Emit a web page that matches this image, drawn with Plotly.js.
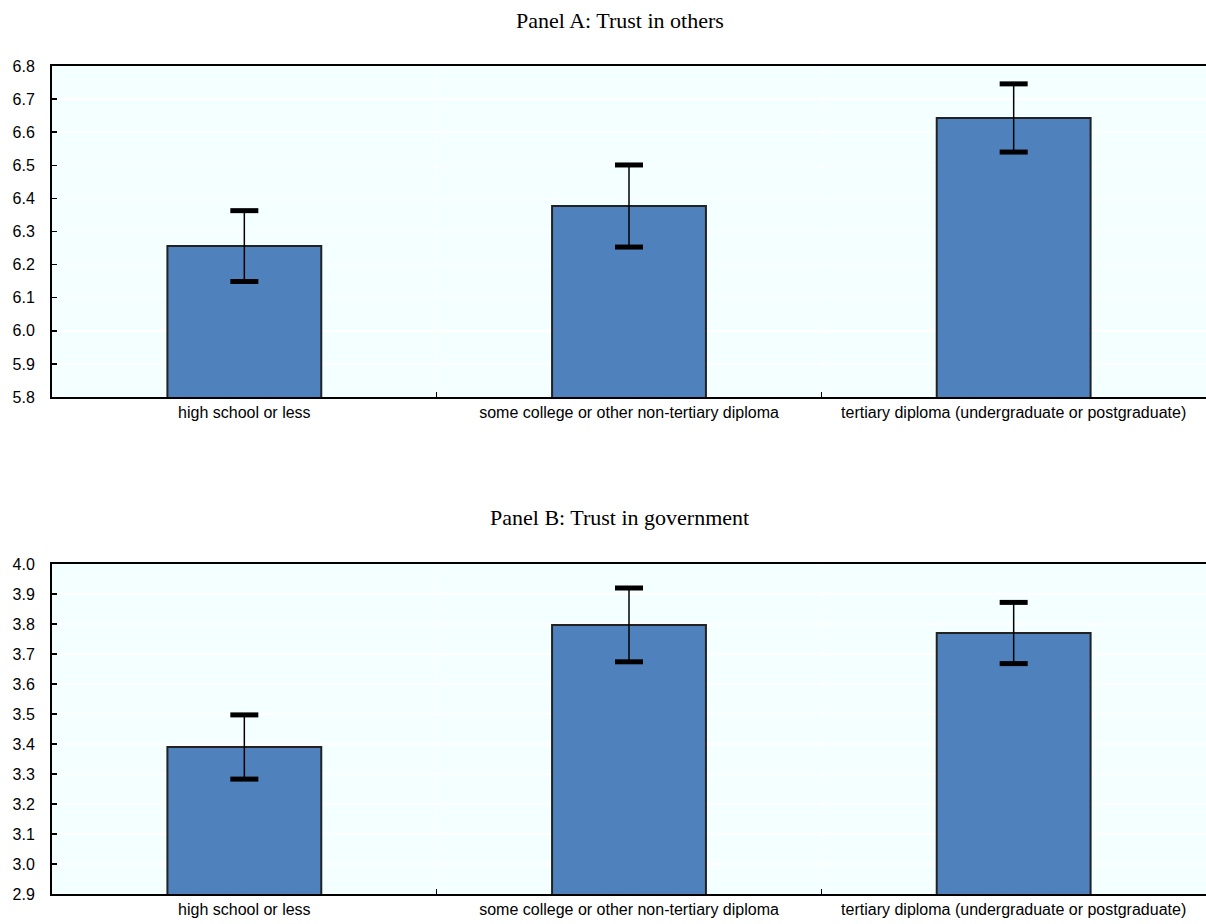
<!DOCTYPE html>
<html>
<head>
<meta charset="utf-8">
<script src="https://cdn.plot.ly/plotly-3.0.1.min.js"></script>
<style>html,body{margin:0;padding:0;background:#fff;}#chart{width:1206px;height:924px;}</style>
</head>
<body>
<div id="chart"></div>
<script>
const categories = ["high school or less", "some college or other non-tertiary diploma", "tertiary diploma (undergraduate or postgraduate)"];
const trustOthers = [6.256, 6.377, 6.643];
const trustOthersErr = [0.107, 0.124, 0.103];
const trustGov = [3.39, 3.797, 3.77];
const trustGovErr = [0.107, 0.123, 0.102];
const panelTitles = ["Panel A: Trust in others", "Panel B: Trust in government"];

const barColor = "#4F81BD";
const tickFont = {family: "Liberation Sans, Arial, sans-serif", size: 16, color: "#000"};

function barTrace(vals, errs, xa, ya) {
  return {
    type: "bar", x: categories, y: vals, xaxis: xa, yaxis: ya, width: 0.4,
    marker: {color: barColor, line: {color: "#222", width: 2}},
    error_y: {type: "data", array: errs, visible: true, color: "#000", thickness: 1.5, width: 0},
    showlegend: false, hoverinfo: "skip"
  };
}
function capTrace(vals, errs, xa, ya) {
  const xs = [], ys = [];
  vals.forEach((v, i) => { xs.push(categories[i], categories[i]); ys.push(v + errs[i], v - errs[i]); });
  return {
    type: "scatter", mode: "markers", x: xs, y: ys, xaxis: xa, yaxis: ya,
    marker: {symbol: "line-ew", size: 20, line: {color: "#000", width: 5}},
    showlegend: false, hoverinfo: "skip", cliponaxis: false
  };
}

const data = [
  barTrace(trustOthers, trustOthersErr, "x", "y"),
  capTrace(trustOthers, trustOthersErr, "x", "y"),
  barTrace(trustGov, trustGovErr, "x2", "y2"),
  capTrace(trustGov, trustGovErr, "x2", "y2")
];

const H = 924;
function xaxisDef(anchor) {
  return {
    anchor: anchor, domain: [0, 1], type: "category", tickson: "boundaries",
    ticks: "inside", ticklen: 5, tickwidth: 1.5, tickcolor: "#000",
    showgrid: true, gridcolor: "#ffffff", gridwidth: 1.5,
    showline: true, linecolor: "#000", linewidth: 2, mirror: true,
    tickfont: tickFont, fixedrange: true
  };
}
function yaxisDef(anchor, range, dom) {
  return {
    anchor: anchor, domain: dom, range: range, dtick: 0.1, tick0: 0, tickformat: ".1f",
    ticks: "inside", ticklen: 5, tickwidth: 1.5, tickcolor: "#000",
    showgrid: true, gridcolor: "#ffffff", gridwidth: 1.5, zeroline: false,
    showline: true, linecolor: "#000", linewidth: 2, mirror: false,
    tickfont: tickFont, ticklabelstandoff: 12, fixedrange: true
  };
}

const titleFont = {family: "Liberation Serif, Times New Roman, serif", size: 22, color: "#000"};
const layout = {
  width: 1206, height: 924,
  margin: {l: 52, r: 0, t: 0, b: 0},
  paper_bgcolor: "#ffffff", plot_bgcolor: "#F4FFFF",
  bargap: 0.6,
  xaxis: xaxisDef("y"),
  yaxis: yaxisDef("x", [5.8, 6.8], [(H - 397) / H, (H - 66) / H]),
  xaxis2: xaxisDef("y2"),
  yaxis2: yaxisDef("x2", [2.9, 4.0], [(H - 894) / H, (H - 564) / H]),
  annotations: [
    {text: panelTitles[0], xref: "paper", yref: "paper", x: 0.492, y: (H - 20) / H, xanchor: "center", yanchor: "middle", showarrow: false, font: titleFont},
    {text: panelTitles[1], xref: "paper", yref: "paper", x: 0.492, y: (H - 517) / H, xanchor: "center", yanchor: "middle", showarrow: false, font: titleFont}
  ]
};

Plotly.newPlot("chart", data, layout, {displayModeBar: false, staticPlot: true});
</script>
</body>
</html>
